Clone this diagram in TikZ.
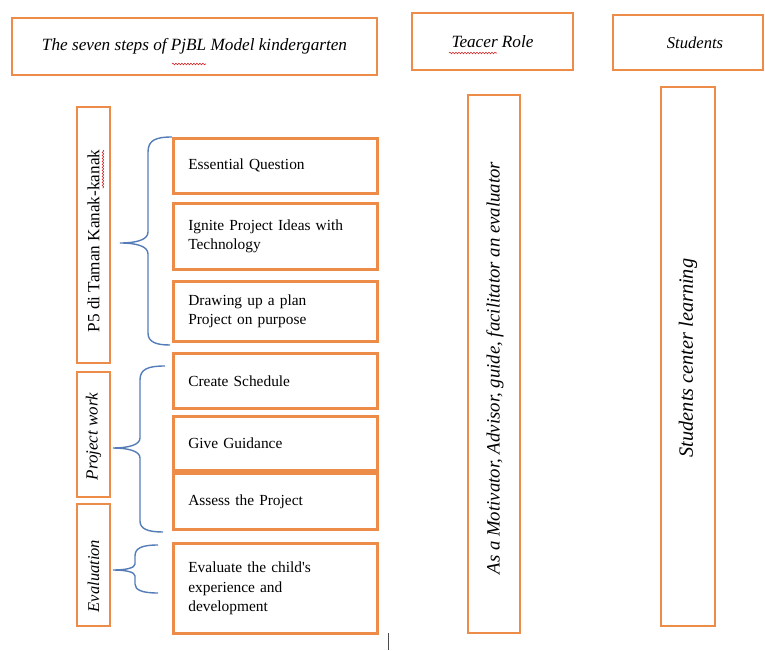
\documentclass[tikz,border=0pt]{standalone}
\usepackage{fontspec}
\setmainfont{Liberation Serif}
\usetikzlibrary{decorations.pathmorphing}
\definecolor{orng}{RGB}{236,140,72}
\definecolor{bluec}{RGB}{84,124,184}
\definecolor{sqred}{RGB}{210,40,40}
\tikzset{
  obox/.style={draw=orng, line width=2.6pt, rectangle, inner sep=0pt},
  item/.style={obox, anchor=north west, minimum width=204pt, text width=174pt,
    inner xsep=15pt, align=left, font=\fontsize{15.4}{19.5}\selectfont},
  lbl/.style={obox, rotate=90, minimum height=33pt},
  lbltext/.style={rotate=90, inner sep=0pt},
  tall/.style={obox, rotate=90},
  head/.style={obox, font=\itshape\fontsize{17.2}{20}\selectfont},
  bracel/.style={draw=bluec, line width=1.4pt},
  squig/.style={draw=sqred, line width=0.6pt, decorate,
    decoration={snake, segment length=3pt, amplitude=0.8pt}},
}
\begin{document}
\begin{tikzpicture}[x=1pt, y=-1pt]
\useasboundingbox (0,0) rectangle (765,650);
% headers
\node[head, minimum width=365pt, minimum height=57pt] (title) at (194.5,46.5) {The seven steps of PjBL Model kindergarten};
\node[head, minimum width=161pt, minimum height=57pt] (trole) at (492.5,41.5) {Teacer Role};
\node[head, minimum width=150pt, minimum height=55pt] (stud) at (688,42.5) {};
\node[font=\itshape\fontsize{16.6}{20}\selectfont, inner sep=0pt] (studt) at ([xshift=7pt]stud.center) {Students};
% left labels
\node[lbl, minimum width=256pt] (p5) at (93.5,235) {};
\node[lbltext, font=\fontsize{17.2}{19}\selectfont] (p5t) at ([yshift=-6pt]p5.center) {P5 di Taman Kanak-kanak};
\node[lbl, minimum width=125pt] (pw) at (93.5,434.5) {};
\node[lbltext, font=\itshape\fontsize{17}{19}\selectfont] (pwt) at ([yshift=-2pt]pw.center) {Project work};
\node[lbl, minimum width=122pt] (evl) at (93.5,565) {};
\node[lbltext, font=\itshape\fontsize{16.5}{19}\selectfont] (evlt) at ([yshift=-11pt]evl.center) {Evaluation};
% items
\node[item, minimum height=55pt] (eq) at (172,137) {Essential Question};
\node[item, minimum height=66pt] (ig) at (172,202) {Ignite Project Ideas with Technology};
\node[item, minimum height=60pt] (dr) at (172,280) {Drawing up a plan\\Project on purpose};
\node[item, minimum height=55pt] (cs) at (172,352) {Create Schedule};
\node[item, minimum height=54pt] (gg) at (172,415) {Give Guidance};
\node[item, minimum height=56pt] (as) at (172,472) {Assess the Project};
\node[item, minimum height=90pt] (ev) at (172,542) {Evaluate the child\textquotesingle s\\experience and\\development};
% tall boxes
\node[tall, minimum width=538pt, minimum height=52pt] (teach) at (494,364) {};
\node[lbltext, font=\itshape\fontsize{18.8}{20}\selectfont] (teacht) at ([yshift=-4pt, xshift=1pt]teach.center) {As a Motivator, Advisor, guide, facilitator an evaluator};
\node[tall, minimum width=539pt, minimum height=54pt] (scl) at (688,356.5) {};
\node[lbltext, font=\itshape\fontsize{20.3}{22}\selectfont] (sclt) at ([yshift=-1.5pt]scl.center) {Students center learning};
% braces
\draw[bracel] (172,137) .. controls (156,137) and (148,140) .. (148,152) -- (148,232)
  .. controls (148,240) and (136,243) .. (120,243)
  .. controls (136,243) and (148,246) .. (148,254) -- (148,333)
  .. controls (148,342) and (156,345) .. (170,345);
\draw[bracel] (165,366) .. controls (148,366) and (140,369) .. (140,380) -- (140,438)
  .. controls (140,445) and (128,448) .. (113,448)
  .. controls (128,448) and (140,451) .. (140,458) -- (140,521)
  .. controls (140,529) and (148,532) .. (163,532);
\draw[bracel] (158,545) .. controls (142,545) and (135,548) .. (135,556) -- (135,564)
  .. controls (135,568) and (126,570) .. (113,570)
  .. controls (126,570) and (135,572) .. (135,576) -- (135,584)
  .. controls (135,590) and (142,593) .. (158,593);
% spell-check squiggles
\draw[squig] (172,64) -- (206,64);
\draw[squig] (449,53) -- (497,53);
\draw[squig] (103,150) -- (103,188);
% cursor mark
\draw[line width=0.8pt, black!70] (388,633) -- (388,650);
\end{tikzpicture}
\end{document}
